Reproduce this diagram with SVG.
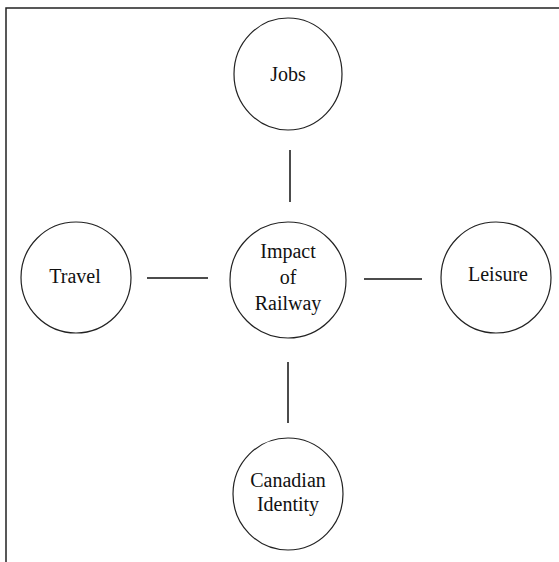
<svg xmlns="http://www.w3.org/2000/svg" width="559" height="562" viewBox="0 0 559 562">
<style>
.node ellipse{fill:#fff;stroke:#222;stroke-width:1.2}
.node text{font-family:"Liberation Serif","Times New Roman",serif;font-size:20px;fill:#111;text-anchor:middle}
#connectors line{stroke:#111;stroke-width:1.5}
.frame{stroke:#222;stroke-width:1.5;fill:none}
</style>
<rect width="559" height="562" fill="#fff"/>
<path class="frame" d="M6,562 V8 H559"/>
<g id="connectors">
<line x1="290" y1="150" x2="290" y2="202"/>
<line x1="147" y1="278" x2="208" y2="278"/>
<line x1="364" y1="279" x2="422" y2="279"/>
<line x1="288" y1="362" x2="288" y2="423"/>
</g>
<g id="node-jobs" class="node">
<ellipse cx="288" cy="74" rx="54" ry="56"/>
<text x="288" y="81">Jobs</text>
</g>
<g id="node-impact" class="node">
<ellipse cx="288" cy="280" rx="58" ry="58"/>
<text x="288" y="258">Impact</text>
<text x="288" y="284">of</text>
<text x="288" y="310">Railway</text>
</g>
<g id="node-travel" class="node">
<ellipse cx="76" cy="277.5" rx="55" ry="55.5"/>
<text x="75" y="283">Travel</text>
</g>
<g id="node-leisure" class="node">
<ellipse cx="496" cy="277.5" rx="55" ry="55.5"/>
<text x="498" y="281">Leisure</text>
</g>
<g id="node-canadian" class="node">
<ellipse cx="288" cy="494" rx="55" ry="56"/>
<text x="288" y="487">Canadian</text>
<text x="288" y="511">Identity</text>
</g>
</svg>
